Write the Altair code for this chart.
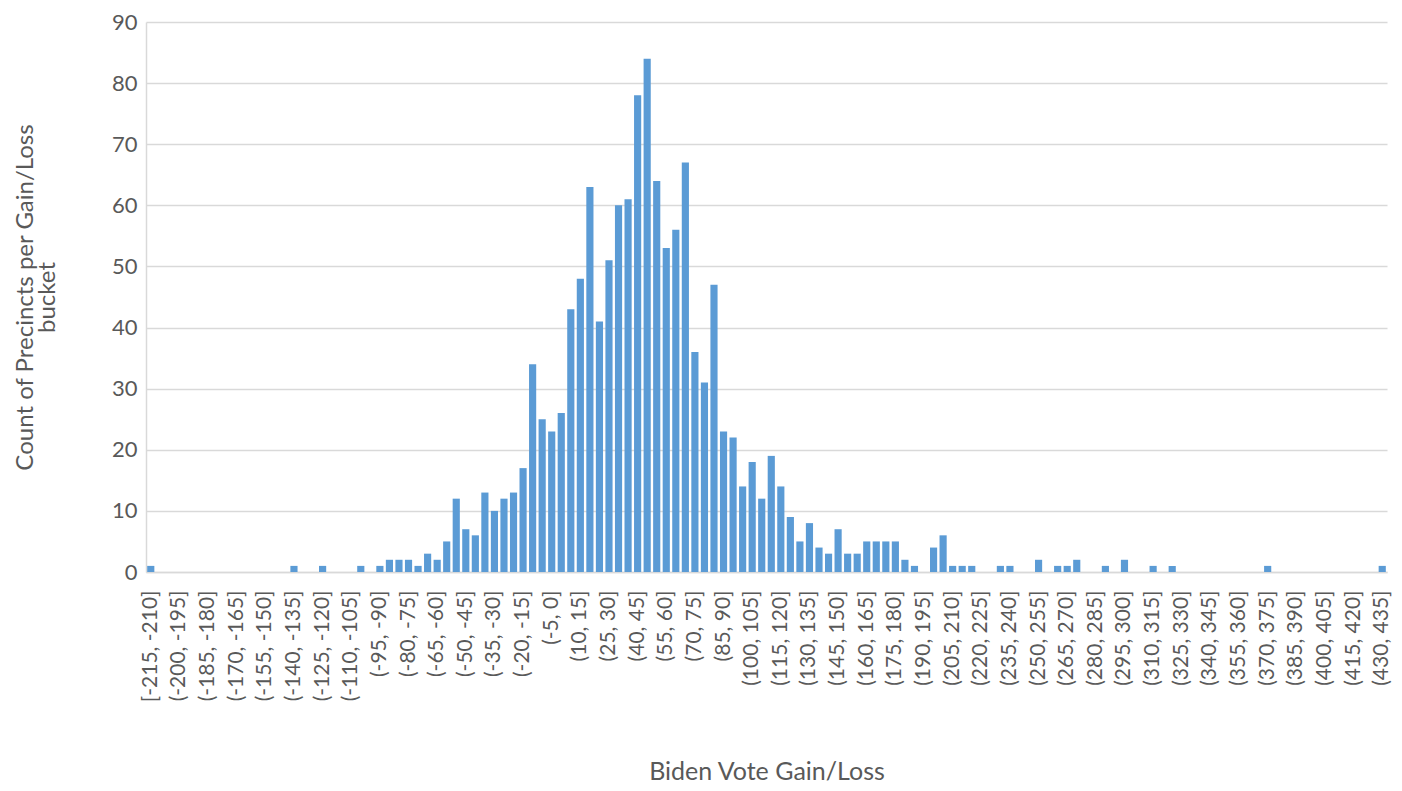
import altair as alt
import pandas as pd

# Bucket lower bounds: [-215,-210], (-210,-205], ... (430,435]
bucket_lows = list(range(-215, 435, 5))
categories = ["[-215, -210]"] + [f"({a}, {a + 5}]" for a in bucket_lows[1:]]

# Count of precincts per bucket, 130 values
counts = [
    1, 0, 0, 0, 0, 0, 0, 0, 0, 0,      # -215 .. -170
    0, 0, 0, 0, 0, 1, 0, 0, 1, 0,      # -165 .. -120
    0, 0, 1, 0, 1, 2, 2, 2, 1, 3,      # -115 .. -70
    2, 5, 12, 7, 6, 13, 10, 12, 13, 17,  # -65 .. -20
    34, 25, 23, 26, 43, 48, 63, 41, 51, 60,  # -15 .. 30
    61, 78, 84, 64, 53, 56, 67, 36, 31, 47,  # 35 .. 80
    23, 22, 14, 18, 12, 19, 14, 9, 5, 8,     # 85 .. 130
    4, 3, 7, 3, 3, 5, 5, 5, 5, 2,            # 135 .. 180
    1, 0, 4, 6, 1, 1, 1, 0, 0, 1,            # 185 .. 230
    1, 0, 0, 2, 0, 1, 1, 2, 0, 0,            # 235 .. 280
    1, 0, 2, 0, 0, 1, 0, 1, 0, 0,            # 285 .. 330
    0, 0, 0, 0, 0, 0, 0, 1, 0, 0,            # 335 .. 380
    0, 0, 0, 0, 0, 0, 0, 0, 0, 1,            # 385 .. 430
]

tick_labels = categories[::3]
y_ticks = [0, 10, 20, 30, 40, 50, 60, 70, 80, 90]

df = pd.DataFrame({"bucket": categories, "count": counts})

FONT = "Lato"
GRAY = "#595959"

chart = alt.Chart(df).mark_bar(color="#5B9BD5").encode(
    x=alt.X(
        "bucket:N",
        sort=categories,
        scale=alt.Scale(paddingInner=0.25, paddingOuter=0.125),
        axis=alt.Axis(
            values=tick_labels,
            labelAngle=270,
            labelFontSize=21,
            labelColor=GRAY,
            labelFont=FONT,
            labelPadding=18,
            labelOverlap=False,
            ticks=False,
            grid=False,
            domainColor="#D9D9D9",
            domainWidth=1.5,
            title="Biden Vote Gain/Loss",
            titleFont=FONT,
            titleFontSize=25,
            titleFontWeight="normal",
            titleColor=GRAY,
            titleY=199,
            titleBaseline="middle",
        ),
    ),
    y=alt.Y(
        "count:Q",
        scale=alt.Scale(domain=[0, 90], nice=False),
        axis=alt.Axis(
            values=y_ticks,
            labelFontSize=22,
            labelColor=GRAY,
            labelFont=FONT,
            labelPadding=9,
            ticks=False,
            grid=True,
            gridColor="#D9D9D9",
            gridWidth=1.5,
            domain=True,
            domainColor="#D9D9D9",
            domainWidth=1.5,
            title=["Count of Precincts per Gain/Loss", "bucket"],
            titleFont=FONT,
            titleFontSize=24,
            titleFontWeight="normal",
            titleColor=GRAY,
            titleLineHeight=22,
            titleAngle=270,
            titleX=-121,
            titleY=275,
            titleAlign="center",
            titleBaseline="middle",
        ),
    ),
).properties(
    width=1241,
    height=550,
    padding={"left": 138, "top": 14, "right": 7, "bottom": 211},
    autosize=alt.AutoSizeParams(type="none"),
    background="white",
).configure_view(stroke=None)

chart.save("out.html", embed_options={"renderer": "svg", "actions": False})
